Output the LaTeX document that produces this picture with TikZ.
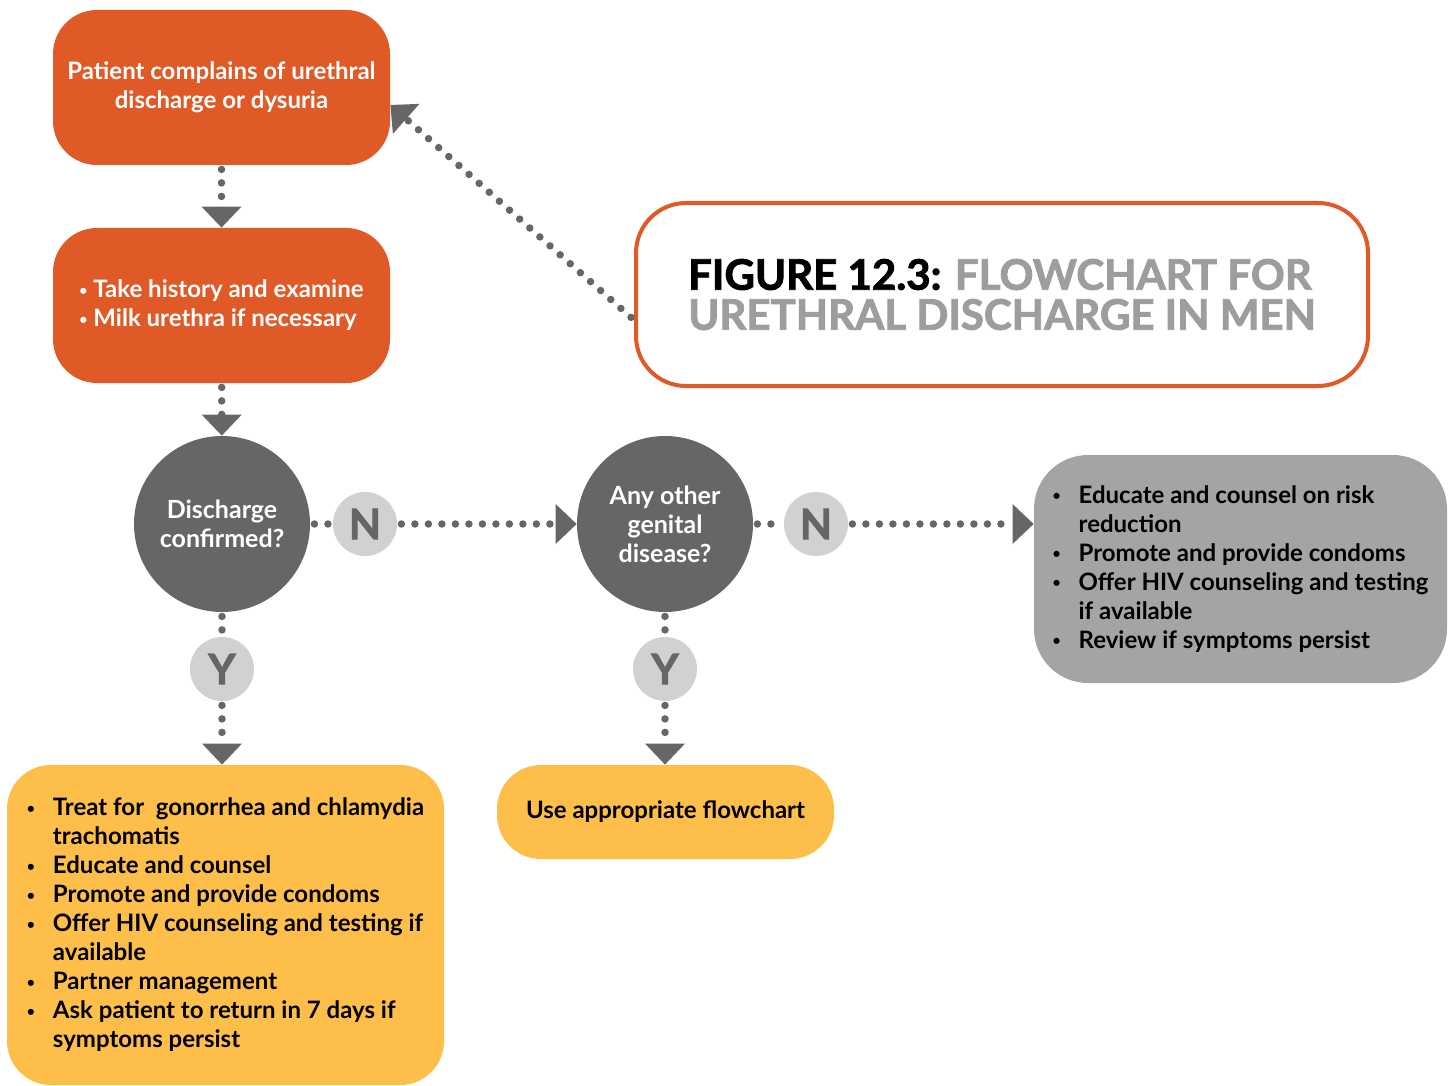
\documentclass[tikz,border=0pt]{standalone}
\usepackage{fontspec}
\setmainfont{Lato}
\newfontfamily\titlefont{Lato}[BoldFeatures={FakeBold=2}]
\usetikzlibrary{arrows.meta}
\definecolor{rust}{HTML}{E05A27}
\definecolor{slate}{HTML}{666666}
\definecolor{mist}{HTML}{D1D1D1}
\definecolor{ash}{HTML}{A4A4A4}
\definecolor{amber}{HTML}{FDBE4A}
\definecolor{titlegrey}{HTML}{9D9D9D}
\newcommand\blt{\raisebox{0.2ex}{\fontsize{7}{7}\selectfont•}}
\newcommand\bul{\makebox[13pt][l]{\blt}}
\newcommand\ind{\hspace*{13pt}}

\begin{document}
\begin{tikzpicture}[x=0.5pt,y=-0.5pt,
  every node/.style={font=\fontsize{12}{14.5}\selectfont\bfseries},
  orangebox/.style={fill=rust, text=white, rounded corners=22pt, minimum width=168.5pt, minimum height=77.5pt, align=center},
  question/.style={circle, fill=slate, text=white, minimum size=88pt, inner sep=0pt, align=center, font=\fontsize{12.5}{14.5}\selectfont\bfseries},
  answer/.style={circle, fill=mist, text=slate, minimum size=32pt, inner sep=0pt, font=\titlefont\fontsize{21}{21}\selectfont\bfseries},
  greybox/.style={fill=ash, text=black, rounded corners=27pt, minimum width=206.5pt, minimum height=114pt, align=left},
  yellowbox/.style={fill=amber, text=black, rounded corners=22pt, minimum width=218.5pt, minimum height=160pt, align=left},
  titlebox/.style={draw=rust, line width=2pt, fill=white, rounded corners=25pt, minimum width=366pt, minimum height=91.5pt, align=left, font=\titlefont\bfseries\fontsize{21}{20}\selectfont, text=titlegrey},
  dots/.style={draw=slate, line width=3.75pt, line cap=round, dash pattern=on 0pt off 6.75pt, shorten <=2pt},
  arrowed/.style={-{Triangle[length=10.5pt, width=20pt, line width=0pt]}, slate}]
\useasboundingbox (0,0) rectangle (1453,1086);

\node[orangebox] (complaint) at (221.5,87.5) {Patient complains of urethral\\discharge or dysuria};
\node[orangebox, align=left] (history) at (221.5,305.5) {\blt\ Take history and examine\\\blt\ Milk urethra if necessary};
\node[titlebox] (caption) at (1002,294.5) {{\color{black}FIGURE 12.3:} FLOWCHART FOR\\URETHRAL DISCHARGE IN MEN};

\node[question] (confirmed) at (222,524) {Discharge\\confirmed?};
\node[answer] (no1) at (365,524) {N};
\node[question] (other) at (665,524) {Any other\\genital\\disease?};
\node[answer] (no2) at (816,524) {N};
\node[greybox] (advice) at (1240.5,569) {\bul Educate and counsel on risk\\\ind reduction\\\bul Promote and provide condoms\\\bul Offer HIV counseling and testing\\\ind if available\\\bul Review if symptoms persist};

\node[answer] (yes1) at (222,669) {Y};
\node[answer] (yes2) at (665,669) {Y};
\node[yellowbox] (treat) at (225.5,925) {\bul Treat for\ \ gonorrhea and chlamydia\\\ind trachomatis\\\bul Educate and counsel\\\bul Promote and provide condoms\\\bul Offer HIV counseling and testing if\\\ind available\\\bul Partner management\\\bul Ask patient to return in 7 days if\\\ind symptoms persist};
\node[yellowbox, minimum width=168.5pt, minimum height=47pt, align=center] (referral) at (665.5,812) {Use appropriate flowchart};

\draw[dots, arrowed] (complaint) -- (history);
\draw[dots, arrowed] (history) -- (confirmed);
\draw[dots] (confirmed) -- (no1);
\draw[dots, arrowed] (no1) -- (other);
\draw[dots] (other) -- (no2);
\draw[dots, arrowed] (no2) -- (no2 -| advice.west);
\draw[dots] (confirmed) -- (yes1);
\draw[dots, arrowed] (yes1) -- (yes1 |- treat.north);
\draw[dots] (other) -- (yes2);
\draw[dots, arrowed] (yes2) -- (yes2 |- referral.north);
\draw[dots, arrowed] ([yshift=-12.75pt]caption.west) -- ([yshift=-8.75pt]complaint.east);
\end{tikzpicture}
\end{document}
